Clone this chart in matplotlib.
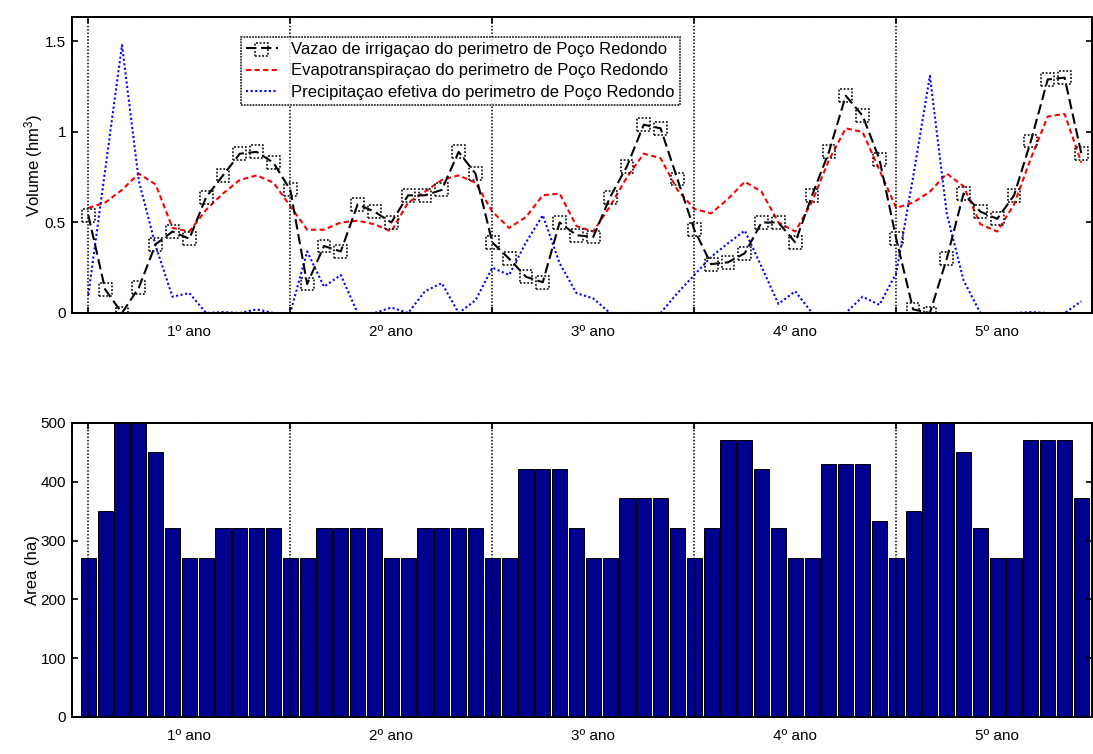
import matplotlib
matplotlib.use("Agg")
import matplotlib.pyplot as plt
import numpy as np

plt.rcParams['font.family'] = ['Liberation Sans', 'DejaVu Sans']
plt.rcParams['mathtext.fontset'] = 'custom'
plt.rcParams['mathtext.rm'] = 'Liberation Sans'
plt.rcParams['mathtext.it'] = 'Liberation Sans'

# Monthly series over five years (60 months)
months = np.arange(1, 61)

irrigation = [0.54, 0.13, 0.00, 0.14, 0.38, 0.45, 0.41, 0.64, 0.76, 0.88, 0.89, 0.83,
              0.68, 0.16, 0.37, 0.34, 0.60, 0.56, 0.50, 0.65, 0.65, 0.68, 0.89, 0.77,
              0.39, 0.30, 0.20, 0.17, 0.50, 0.43, 0.42, 0.64, 0.81, 1.04, 1.02, 0.74,
              0.46, 0.27, 0.28, 0.33, 0.50, 0.50, 0.39, 0.65, 0.89, 1.20, 1.09, 0.85,
              0.41, 0.02, 0.00, 0.30, 0.66, 0.56, 0.52, 0.65, 0.95, 1.29, 1.30, 0.88]

evapotranspiration = [0.58, 0.61, 0.68, 0.77, 0.71, 0.47, 0.45, 0.57, 0.66, 0.735, 0.76, 0.72,
                      0.59, 0.46, 0.46, 0.50, 0.51, 0.49, 0.45, 0.61, 0.67, 0.735, 0.76, 0.72,
                      0.56, 0.47, 0.53, 0.65, 0.66, 0.48, 0.45, 0.59, 0.75, 0.88, 0.855, 0.68,
                      0.575, 0.55, 0.63, 0.725, 0.67, 0.50, 0.45, 0.615, 0.845, 1.02, 1.00, 0.79,
                      0.58, 0.61, 0.67, 0.77, 0.70, 0.49, 0.45, 0.60, 0.855, 1.085, 1.10, 0.83]

precipitation = [0.10, 0.79, 1.48, 0.73, 0.37, 0.09, 0.11, 0.00, 0.005, 0.00, 0.02, 0.00,
                 0.00, 0.34, 0.145, 0.21, 0.00, 0.00, 0.03, 0.00, 0.12, 0.165, 0.00, 0.07,
                 0.25, 0.21, 0.39, 0.54, 0.275, 0.11, 0.08, 0.00, 0.00, 0.00, 0.00, 0.11,
                 0.21, 0.31, 0.385, 0.455, 0.255, 0.05, 0.12, 0.00, 0.00, 0.00, 0.09, 0.045,
                 0.22, 0.75, 1.31, 0.55, 0.18, 0.00, 0.00, 0.00, 0.005, 0.00, 0.00, 0.065]

area = [270, 350, 500, 500, 451, 321, 270, 270, 321, 321, 321, 321,
        270, 270, 321, 321, 321, 321, 270, 270, 321, 321, 321, 321,
        270, 270, 421, 421, 421, 321, 270, 270, 372, 372, 372, 321,
        270, 321, 471, 471, 421, 321, 270, 270, 431, 431, 431, 333,
        270, 350, 500, 500, 451, 321, 270, 270, 471, 471, 471, 372]

year_starts = [1, 13, 25, 37, 49]
year_centers = [7, 19, 31, 43, 55]
year_labels = ['1º ano', '2º ano', '3º ano', '4º ano', '5º ano']

legend_labels = ['Vazao de irrigaçao do perimetro de Poço Redondo',
                 'Evapotranspiraçao do perimetro de Poço Redondo',
                 'Precipitaçao efetiva do perimetro de Poço Redondo']

FS = 11
FS_LABEL = 12
FS_LEGEND = 12
W, H = 1093, 754
fig = plt.figure(figsize=(W / 100, H / 100), dpi=100)

def px_axes(left, top, right, bottom):
    return fig.add_axes([left / W, 1 - bottom / H, (right - left) / W, (bottom - top) / H])

ax1 = px_axes(71.5, 17, 1092, 313)
ax2 = px_axes(71.5, 423, 1092, 717)

xlim = (0, 60.63)

def style_axes(ax):
    ax.set_xlim(*xlim)
    ax.set_xticks(year_starts)
    ax.set_xticklabels([])
    ax.set_xticks(year_centers, minor=True)
    ax.set_xticklabels(year_labels, minor=True, fontsize=FS)
    ax.tick_params(axis='x', which='minor', length=0, pad=9)
    ax.tick_params(axis='x', which='major', direction='in', length=4, top=True, bottom=True,
                   width=1.2)
    ax.tick_params(axis='y', direction='in', length=4, left=True, right=True, labelsize=FS,
                   width=1.2, pad=4)
    ax.grid(axis='x', which='major', color='black', linestyle=(0, (1, 1.2)), linewidth=1.1)
    for sp in ax.spines.values():
        sp.set_linestyle((0, (1, 0.6)))
        sp.set_linewidth(1.4)
        sp.set_color('black')
    ax.set_axisbelow(False)

# Top panel: monthly volumes
line_irr, = ax1.plot(months, irrigation, color='black', linewidth=1.5, dashes=(5, 2.2), zorder=3)
pts_irr = ax1.scatter(months, irrigation, marker='s', s=85, facecolors='none',
                      edgecolors='#202020', linewidths=1.3, linestyles=(0, (1, 1)), zorder=4)
line_evp, = ax1.plot(months, evapotranspiration, color='#ff0000', linewidth=1.5,
                     dashes=(2.5, 1.6), zorder=2)
line_pre, = ax1.plot(months, precipitation, color='#0000ff', linewidth=1.5,
                     dashes=(1, 1.2), zorder=2)

ax1.set_ylim(0, 1.635)
ax1.set_yticks([0, 0.5, 1, 1.5])
ax1.set_yticklabels(['0', '0.5', '1', '1.5'])
ax1.set_ylabel('Volume (hm$^3$)', fontsize=FS_LABEL, labelpad=0)
style_axes(ax1)

leg = ax1.legend([(line_irr, pts_irr), line_evp, line_pre], legend_labels,
                 loc='upper left', bbox_to_anchor=((241 - 71.5) / 1020.5, (313 - 37) / 296),
                 borderaxespad=0, fontsize=FS_LEGEND, frameon=True, fancybox=False,
                 handlelength=1.9, handletextpad=0.8, labelspacing=0.38, borderpad=0.3)
fr = leg.get_frame()
fr.set_edgecolor('black')
fr.set_linewidth(1.3)
fr.set_linestyle((0, (1, 0.6)))

# Bottom panel: irrigated area per month
ax2.bar(months, area, width=0.9, color=(0, 0, 0.5625), edgecolor='black', linewidth=0.7,
        zorder=2)
ax2.set_ylim(0, 500)
ax2.set_yticks([0, 100, 200, 300, 400, 500])
ax2.set_ylabel('Area (ha)', fontsize=FS_LABEL, labelpad=0)
style_axes(ax2)

fig.savefig('out.png', dpi=100)
